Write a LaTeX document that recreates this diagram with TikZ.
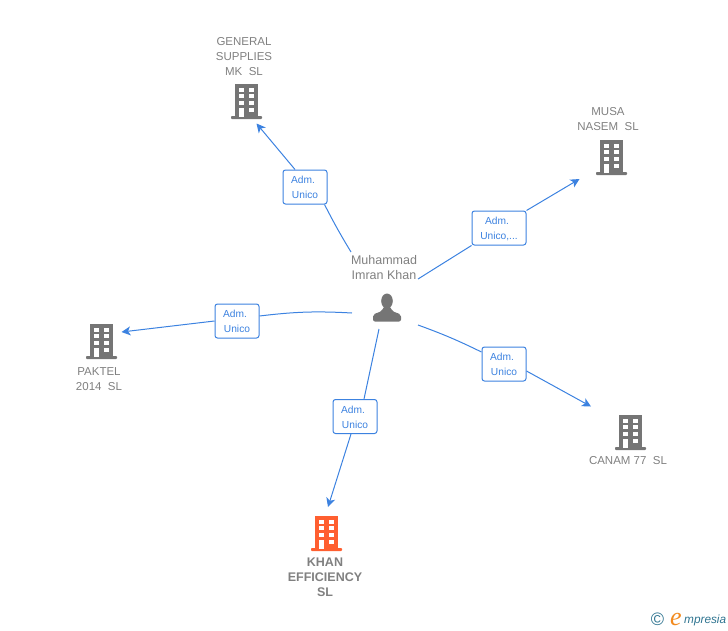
\documentclass[tikz,border=0pt]{standalone}
\usepackage{fontspec}
\setmainfont{Liberation Sans}
\newfontfamily\logofont{Liberation Serif}
\usepackage{tikz}
\usetikzlibrary{arrows.meta,positioning}
\definecolor{linkblue}{HTML}{3C82E0}
\definecolor{labelgray}{HTML}{808080}
\definecolor{icongray}{HTML}{757575}
\definecolor{iconorange}{HTML}{FF5F30}
\definecolor{logoblue}{HTML}{2F7490}
\definecolor{logoorange}{HTML}{F28A1E}
\newcommand{\admline}{\rule{0pt}{8.5pt}Adm.\hspace*{4pt}}

\begin{document}
\begin{tikzpicture}[x=1pt,y=-1pt]
\tikzstyle{firm}=[text=labelgray,align=center,inner sep=0pt,font=\fontsize{11.5}{15}\selectfont]
\tikzstyle{rolebox}=[draw=linkblue,fill=white,line width=1pt,rounded corners=2.5pt,text=linkblue,align=center,inner sep=0pt,minimum width=44pt,minimum height=34pt,font=\fontsize{10.2}{15}\selectfont]
\tikzstyle{linkline}=[draw=linkblue,line width=1pt]
\tikzstyle{linkarrow}=[linkline,-{Stealth[length=9pt,width=9pt,inset=2.5pt]}]
\tikzset{
  pics/building/.style={code={
    \fill[#1] (-11.5,-17.5) rectangle (11.5,15);
    \fill[#1,rounded corners=0.8pt] (-15.5,14.5) rectangle (15.5,17.5);
    \foreach \row in {-14,-7.2,-0.4,6.4}{
      \fill[white] (-7.7,\row) rectangle (-2.7,\row+4);
      \fill[white] (2.3,\row) rectangle (7.3,\row+4);
    }
    \fill[white] (-7.7,6.4) rectangle (-2.7,15);
  }},
  pics/person/.style={code={
    \fill[#1] (0,-6) ellipse (5.8pt and 7.5pt);
    \fill[#1,rounded corners=2pt] (-14,14.5) -- (-14,7.5) -- (-5,4) -- (-3,-1) -- (3,-1) -- (5,4) -- (14,7.5) -- (14,14.5) -- cycle;
  }}
}
\useasboundingbox (0,0) rectangle (728,630);

\node[firm,font=\fontsize{12.5}{15}\selectfont] (muhammad) at (384,268) {Muhammad\\Imran Khan};
\pic at (387,307) {person=icongray};
\coordinate (fromgeneral) at (351,252);
\coordinate (frommusa) at (418,279);
\coordinate (frompaktel) at (352,313);
\coordinate (fromcanam) at (418,325);
\coordinate (fromkhan) at (379,329);

\node[firm] (general) at (244,57) {GENERAL\\SUPPLIES\\MK\ \ SL};
\pic at (246.5,101.5) {building=icongray};
\coordinate (togeneral) at (256.5,123.5);
\node[rolebox] (rolegeneral) at (305,187) {\admline\\Unico};

\node[firm] (musa) at (608,119.5) {MUSA\\NASEM\ \ SL};
\pic at (611.5,157.5) {building=icongray};
\coordinate (tomusa) at (579.5,179);
\node[rolebox,minimum width=54pt] (rolemusa) at (499,228) {\admline\\Unico,...};

\node[firm] (paktel) at (99,379.5) {PAKTEL\\2014\ \ SL};
\pic at (101.5,341.5) {building=icongray};
\coordinate (topaktel) at (121.5,332);
\node[rolebox] (rolepaktel) at (237,321) {\admline\\Unico};

\node[firm] (canam) at (628,461) {CANAM 77\ \ SL};
\pic at (630.5,432.5) {building=icongray};
\coordinate (tocanam) at (591,406.5);
\node[rolebox] (rolecanam) at (504,364) {\admline\\Unico};

\node[firm,font=\fontsize{12.5}{15}\selectfont\bfseries] (khan) at (325,577.5) {KHAN\\EFFICIENCY\\SL};
\pic at (326.5,533.5) {building=iconorange};
\coordinate (tokhan) at (328,507);
\node[rolebox] (rolekhan) at (355,416.5) {\admline\\Unico};

\draw[linkline] (fromgeneral) to[bend left=2] ([xshift=-3pt]rolegeneral.south east);
\draw[linkarrow] ([xshift=-10pt]rolegeneral.north) -- (togeneral);
\draw[linkline] (frommusa) -- (rolemusa.south west);
\draw[linkarrow] (rolemusa.north east) -- (tomusa);
\draw[linkline] (frompaktel) to[bend right=5] ([yshift=5pt]rolepaktel.east);
\draw[linkarrow] (rolepaktel.west) -- (topaktel);
\draw[linkline] (fromcanam) to[bend left=3] ([yshift=12pt]rolecanam.west);
\draw[linkarrow] ([yshift=-7pt]rolecanam.east) -- (tocanam);
\draw[linkline] (fromkhan) -- ([xshift=9pt]rolekhan.north);
\draw[linkarrow] ([xshift=-4pt]rolekhan.south) -- (tokhan);

\node[text=logoblue,inner sep=0pt,font=\fontsize{18}{18}\selectfont] (copyright) at (657.5,619) {©};
\node[text=logoorange,inner sep=0pt,anchor=base,font=\logofont\itshape\fontsize{26}{26}\selectfont] (logoe) at (676,625) {e};
\node[text=logoblue,inner sep=0pt,anchor=base west,font=\itshape\fontsize{11.8}{11.8}\selectfont] (logotext) at (684,623) {mpresia};
\end{tikzpicture}
\end{document}
